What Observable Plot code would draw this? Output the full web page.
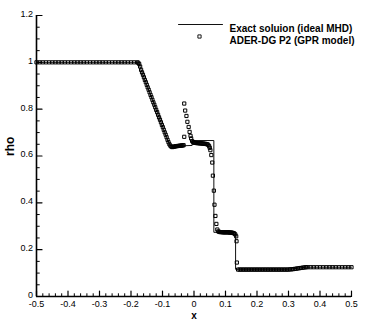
<!DOCTYPE html>
<html><head><meta charset="utf-8">
<script src="https://cdn.jsdelivr.net/npm/d3@7"></script>
<script src="https://cdn.jsdelivr.net/npm/@observablehq/plot@0.6"></script>
<style>body{margin:0;background:#fff} #chart svg{display:block}</style>
</head><body><div id="chart"></div>
<script>
// Tick values and labels
const xMajorTicks = [-0.5,-0.4,-0.3,-0.2,-0.1,0,0.1,0.2,0.3,0.4,0.5];
const xTickLabels = ["-0.5","-0.4","-0.3","-0.2","-0.1","0","0.1","0.2","0.3","0.4","0.5"];
const yMajorTicks = [0,0.2,0.4,0.6,0.8,1,1.2];
const yTickLabels = ["0","0.2","0.4","0.6","0.8","1","1.2"];
const legendLabels = ["Exact soluion (ideal MHD)", "ADER-DG P2 (GPR model)"];
const xTitle = "x";
const yTitle = "rho";

// Exact solution (ideal MHD): [x, rho]
const exactSolution = [
  [-0.5,1],[-0.178,1],[-0.174,0.994],[-0.17,0.975],[-0.081,0.659],[-0.076,0.646],[-0.07,0.642],
  [-0.006,0.645],[-0.004,0.666],[0.063,0.666],[0.063,0.274],[0.132,0.274],[0.132,0.116],
  [0.30,0.116],[0.355,0.125],[0.5,0.125]
];

// ADER-DG P2 (GPR model) samples: [x, rho]
const dgSamples = [
  [-0.5,1],[-0.49,1],[-0.48,1],[-0.47,1],[-0.46,1],[-0.45,1],[-0.44,1],[-0.43,1],[-0.42,1],[-0.41,1],
  [-0.4,1],[-0.39,1],[-0.38,1],[-0.37,1],[-0.36,1],[-0.35,1],[-0.34,1],[-0.33,1],[-0.32,1],[-0.31,1],
  [-0.3,1],[-0.29,1],[-0.28,1],[-0.27,1],[-0.26,1],[-0.25,1],[-0.24,1],[-0.23,1],[-0.22,1],[-0.21,1],
  [-0.2,1],[-0.19,1],[-0.18,1],
  [-0.177,0.998],[-0.174,0.993],[-0.171,0.982],[-0.168,0.968],[-0.165,0.957],[-0.162,0.947],[-0.159,0.936],
  [-0.156,0.925],[-0.153,0.915],[-0.15,0.904],[-0.147,0.893],[-0.144,0.883],[-0.141,0.872],[-0.138,0.861],
  [-0.135,0.851],[-0.132,0.84],[-0.129,0.829],[-0.126,0.819],[-0.123,0.808],[-0.12,0.797],[-0.117,0.787],
  [-0.114,0.776],[-0.111,0.765],[-0.108,0.755],[-0.105,0.744],[-0.102,0.733],[-0.099,0.723],[-0.096,0.712],
  [-0.093,0.701],[-0.09,0.691],[-0.087,0.68],[-0.084,0.669],[-0.081,0.659],[-0.078,0.65],[-0.075,0.644],
  [-0.072,0.64],[-0.069,0.638],
  [-0.066,0.639],[-0.063,0.64],[-0.06,0.641],[-0.057,0.642],[-0.054,0.642],[-0.051,0.643],[-0.048,0.643],
  [-0.045,0.644],[-0.042,0.644],[-0.039,0.645],[-0.036,0.645],[-0.033,0.646],
  [-0.031,0.682],
  [-0.031,0.824],[-0.028,0.794],[-0.024,0.771],[-0.021,0.746],[-0.017,0.724],[-0.014,0.703],[-0.011,0.686],
  [-0.009,0.675],[-0.006,0.664],[-0.003,0.659],
  [0,0.657],[0.003,0.656],[0.006,0.656],[0.009,0.655],[0.012,0.655],[0.015,0.655],[0.018,0.654],[0.021,0.654],
  [0.024,0.654],[0.027,0.653],[0.03,0.653],[0.033,0.652],[0.036,0.652],[0.039,0.651],[0.042,0.65],[0.045,0.648],
  [0.048,0.642],[0.05,0.635],[0.052,0.625],[0.055,0.604],[0.058,0.572],[0.06,0.516],[0.063,0.452],[0.065,0.392],
  [0.068,0.344],[0.071,0.31],[0.074,0.286],
  [0.077,0.278],[0.08,0.276],[0.083,0.275],[0.086,0.275],[0.089,0.275],[0.092,0.274],[0.095,0.274],[0.098,0.274],
  [0.101,0.274],[0.104,0.274],[0.107,0.274],[0.11,0.274],[0.113,0.273],[0.116,0.273],[0.119,0.273],[0.122,0.272],
  [0.125,0.271],[0.128,0.269],
  [0.131,0.265],[0.134,0.257],[0.135,0.236],[0.136,0.145],
  [0.14,0.115],[0.145,0.115],[0.15,0.115],[0.155,0.115],[0.16,0.115],[0.165,0.115],[0.17,0.115],[0.175,0.115],
  [0.18,0.115],[0.185,0.115],[0.19,0.115],[0.195,0.115],[0.2,0.115],[0.205,0.115],[0.21,0.115],[0.215,0.115],
  [0.22,0.115],[0.225,0.115],[0.23,0.115],[0.235,0.115],[0.24,0.115],[0.245,0.115],[0.25,0.115],[0.255,0.115],
  [0.26,0.115],[0.265,0.115],[0.27,0.115],[0.275,0.115],[0.28,0.115],[0.285,0.115],[0.29,0.115],[0.295,0.115],
  [0.3,0.115],[0.305,0.116],[0.31,0.116],[0.315,0.117],[0.32,0.118],[0.325,0.119],[0.33,0.12],[0.335,0.121],
  [0.34,0.122],[0.345,0.123],[0.35,0.124],[0.355,0.125],
  [0.36,0.125],[0.37,0.125],[0.38,0.125],[0.39,0.125],[0.4,0.125],[0.41,0.125],[0.42,0.125],[0.43,0.125],
  [0.44,0.125],[0.45,0.125],[0.46,0.125],[0.47,0.125],[0.48,0.125],[0.49,0.125],[0.5,0.125]
];

const xMinorTicks = d3.ticks(-0.5, 0.5, 50).filter(v => Math.abs(Math.round(v * 50)) % 5 !== 0);
const yMinorTicks = d3.ticks(0, 1.2, 24).filter(v => Math.round(v * 20) % 4 !== 0);

const lineShape = {draw(ctx, l) { ctx.moveTo(0, 0); ctx.lineTo(0, -l); }};
const ink = "#111";

const chart = Plot.plot({
  width: 368, height: 327,
  marginLeft: 36, marginRight: 17, marginTop: 15, marginBottom: 31,
  x: {domain: [-0.5, 0.5]},
  y: {domain: [0, 1.2]},
  style: {fontFamily: "'Liberation Sans', Arial, Helvetica, sans-serif", color: "#000", background: "#fff", overflow: "visible"},
  marks: [
    // exact solution
    Plot.line(exactSolution, {x: d => d[0], y: d => d[1], stroke: ink, strokeWidth: 1}),
    // DG samples
    Plot.dot(dgSamples, {x: d => d[0], y: d => d[1], symbol: "square", r: 1.8, stroke: "#000", strokeWidth: 1, fill: "none"}),
    // axis lines
    Plot.ruleY([0], {stroke: "#000", strokeWidth: 1.6}),
    Plot.ruleX([-0.5], {stroke: "#000", strokeWidth: 1.6}),
    // inward ticks
    Plot.vector(xMajorTicks, {x: d => d, y: () => 0, length: 5.5, rotate: 0, anchor: "start", shape: lineShape, stroke: "#000", strokeWidth: 1.2}),
    Plot.vector(xMinorTicks, {x: d => d, y: () => 0, length: 2.8, rotate: 0, anchor: "start", shape: lineShape, stroke: "#000", strokeWidth: 1}),
    Plot.vector(yMajorTicks, {y: d => d, x: () => -0.5, length: 5.5, rotate: 90, anchor: "start", shape: lineShape, stroke: "#000", strokeWidth: 1.2}),
    Plot.vector(yMinorTicks, {y: d => d, x: () => -0.5, length: 2.8, rotate: 90, anchor: "start", shape: lineShape, stroke: "#000", strokeWidth: 1}),
    // tick labels
    Plot.axisX({ticks: xMajorTicks, tickSize: 0, tickPadding: 4.5, fontSize: 9, label: null,
      tickFormat: d => xTickLabels[xMajorTicks.indexOf(d)]}),
    Plot.axisY({ticks: yMajorTicks, tickSize: 0, tickPadding: 3.5, fontSize: 9, label: null, dy: -1.5,
      tickFormat: d => yTickLabels[yMajorTicks.indexOf(d)]}),
    // axis titles
    Plot.text([xTitle], {text: d => d, frameAnchor: "bottom", dy: 22.5, fontWeight: "bold", fontSize: 10}),
    Plot.text([yTitle], {text: d => d, frameAnchor: "left", dx: -26, rotate: -90, fontWeight: "bold", fontSize: 12}),
    // legend
    Plot.vector([0], {frameAnchor: "top-left", dx: 142, dy: 9, length: 44, rotate: 90, anchor: "start", shape: lineShape, stroke: ink, strokeWidth: 1}),
    Plot.dot([0], {frameAnchor: "top-left", dx: 163, dy: 21, symbol: "square", r: 1.8, stroke: "#000", strokeWidth: 0.9, fill: "none"}),
    Plot.text([legendLabels[0]], {text: d => d, frameAnchor: "top-left", dx: 193, dy: 9, textAnchor: "start", fontWeight: "bold", fontSize: 10}),
    Plot.text([legendLabels[1]], {text: d => d, frameAnchor: "top-left", dx: 193, dy: 21, textAnchor: "start", fontWeight: "bold", fontSize: 10})
  ]
});
document.getElementById("chart").append(chart);
</script></body></html>
